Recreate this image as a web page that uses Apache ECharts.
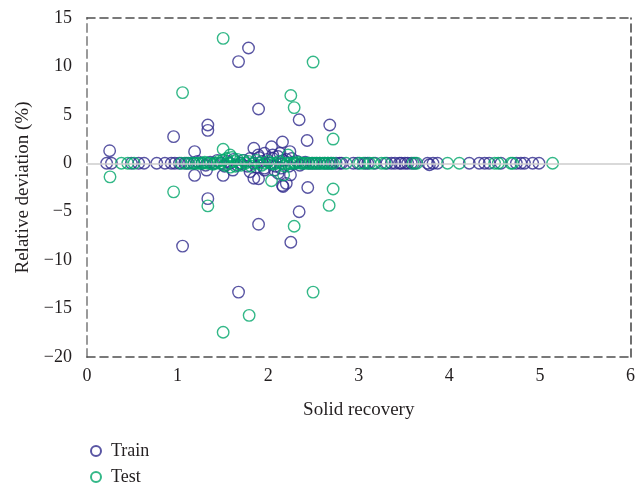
<!DOCTYPE html>
<html><head><meta charset="utf-8">
<script src="https://cdn.jsdelivr.net/npm/echarts@6/dist/echarts.min.js"></script>
<style>html,body{margin:0;padding:0;background:#fff}#c{width:638px;height:485px}</style>
</head><body><div id="c"></div>
<script>
// ---- data ----
const trainX = [1.783,1.673,1.894,2.342,1.334,1.334,0.956,2.43,2.158,0.25,1.188,1.842,2.037,2.68,2.24,1.89,1.96,2.05,2.13,
  1.188,1.334,2.437,2.158,2.342,1.894,1.055,2.25,1.673,1.842,1.894,1.503,2.246,1.61,2.11,2.2,1.80,1.96,2.07,1.32,2.165,
  0.217,0.27,0.49,0.57,0.63,0.77,0.86,0.93,0.97,1.02,1.08,1.12,1.18,1.22,1.27,1.31,1.36,1.40,1.44,1.48,1.52,1.55,1.58,1.62,1.66,1.70,1.73,1.77,1.80,1.84,1.87,1.90,1.93,1.96,1.99,2.02,2.05,2.08,2.11,2.14,2.17,2.20,2.23,2.26,2.29,2.32,2.35,2.38,2.41,2.45,2.49,2.53,2.57,2.62,2.66,2.70,2.75,
  2.79,2.81,2.94,2.99,3.07,3.10,3.18,3.31,3.36,3.40,3.45,3.47,3.51,3.54,3.58,3.62,3.76,3.78,3.82,3.87,4.22,4.33,4.39,4.44,4.57,4.74,4.79,4.83,4.92,4.99];
const trainY = [11.9,10.5,5.6,4.5,3.95,3.4,2.75,2.35,2.2,1.3,1.2,1.55,1.7,3.95,1.2,0.86,1.03,0.86,1.03,
  -1.25,-3.65,-2.5,-2.3,-5.0,-6.3,-8.55,-8.15,-13.3,-1.55,-1.6,-1.25,-1.2,-0.7,-1.03,-2.07,-0.87,-0.7,-0.7,-0.7,-2.4,
  0,0,0,0,0,0,0,0,0,0,0,0,0,0.2,0,-0.2,0.1,0,0.3,0,-0.3,0.2,0,0.4,-0.2,0,0.3,-0.3,0.5,0,-0.4,0.6,0.2,-0.5,0.4,0,0.5,-0.3,0.7,-0.5,0.3,0.4,-0.3,0.5,0,0.2,-0.2,0,0.1,0,0,0,0,0,0,0,0,
  0,0,0,0,0,0,0,0,0,0,0,0,0,0,0,0,0,-0.15,0,0,0,0,0,0,0,0,0,0,0,0];
const testX = [1.503,2.496,1.055,2.25,2.287,1.503,2.717,0.254,0.956,1.334,2.037,2.287,2.496,1.79,1.503,2.717,2.673,1.58,2.22,2.17,
  0.38,0.45,0.52,1.04,1.10,1.15,1.18,1.21,1.24,1.27,1.30,1.33,1.36,1.39,1.42,1.45,1.47,1.50,1.52,1.54,1.56,1.58,1.60,1.62,1.64,1.66,1.68,1.70,1.72,1.75,1.78,1.81,1.84,1.87,1.90,1.93,1.96,2.00,2.03,2.06,2.09,2.12,2.15,2.18,2.21,2.24,2.27,2.30,2.33,2.36,2.39,2.42,2.45,2.48,2.51,2.54,2.57,2.60,2.63,2.66,2.69,2.72,
  2.86,3.01,3.05,3.12,3.16,3.25,3.29,3.60,3.64,3.98,4.11,4.50,4.54,4.68,4.70,5.14];
const testY = [12.9,10.45,7.3,7.0,5.75,1.45,2.5,-1.4,-2.95,-4.4,-1.8,-6.5,-13.3,-15.7,-17.45,-2.65,-4.35,0.86,0.86,-1.2,
  0,0,0,0,0,0,0,0,0,0,0.1,0,0,-0.1,0,0.2,0,0.3,-0.2,0.5,0,-0.4,0.6,0.2,-0.3,0.4,0,-0.2,0.3,0,0.2,-0.3,0,0.3,0,-0.2,0,0.2,0,-0.1,0,0.2,0,-0.3,0,0,0,0,0.1,0,0,0,0,0,0,0,0,0,0,0,0,0,
  0,0,0,0,0,0,0,0,0,0,0,0,0,0,0,0];
const xTicks = [0,1,2,3,4,5,6];
const yTicks = [-20,-15,-10,-5,0,5,10,15];

const pairs = (xs, ys) => xs.map((x, i) => [x, ys[i]]);
const FONT = 'Liberation Serif';
const TXT = '#231f20';
const TRAIN_C = '#2f2b8c';
const TEST_C = '#00a66a';
const dashDark = {color:'#4d4d4d', width:1.6, type:[8,5]};
const legendBase = {orient:'vertical', left:85, itemWidth:10, itemHeight:10, icon:'circle', itemGap:8,
  textStyle:{fontFamily:FONT, fontSize:18, color:TXT, padding:[0,0,0,5]}};
const chart = echarts.init(document.getElementById('c'), null, {renderer:'canvas'});
chart.setOption({
  animation:false,
  grid:{left:87, right:7, top:18, bottom:128, containLabel:false},
  legend:[
    Object.assign({}, legendBase, {top:437, data:['Train']}),
    Object.assign({}, legendBase, {top:463, data:['Test']})
  ],
  xAxis:[{
    type:'value', min:0, max:6, interval:1, position:'bottom',
    name:'Solid recovery', nameLocation:'middle', nameGap:44,
    nameTextStyle:{fontFamily:FONT, fontSize:19, color:TXT},
    axisLine:{show:true, onZero:false, lineStyle:dashDark},
    axisTick:{show:false}, splitLine:{show:false},
    axisLabel:{fontFamily:FONT, fontSize:18, color:TXT, margin:10,
      formatter:v=>xTicks.includes(v)?String(v):''}
  },{
    type:'value', min:0, max:6, position:'top',
    axisLine:{show:true, onZero:false, lineStyle:dashDark},
    axisTick:{show:false}, axisLabel:{show:false}, splitLine:{show:false}
  }],
  yAxis:[{
    type:'value', min:-20, max:15, interval:5, position:'left',
    name:'Relative deviation (%)', nameLocation:'middle', nameGap:52, nameRotate:90,
    nameTextStyle:{fontFamily:FONT, fontSize:19, color:TXT},
    axisLine:{show:true, onZero:false, lineStyle:{color:'#9a9a9a', width:2, type:[8,5]}},
    axisTick:{show:false}, splitLine:{show:false},
    axisLabel:{fontFamily:FONT, fontSize:18, color:TXT, margin:15,
      formatter:v=>yTicks.includes(v)?String(v).replace('-','\u2212'):''}
  },{
    type:'value', min:-20, max:15, position:'right',
    axisLine:{show:true, onZero:false, lineStyle:dashDark},
    axisTick:{show:false}, axisLabel:{show:false}, splitLine:{show:false}
  }],
  series:[{
    type:'line', data:[], z:1, silent:true,
    markLine:{silent:true, symbol:'none', label:{show:false},
      lineStyle:{color:'#cccccc', width:1.5, type:'solid'}, data:[{yAxis:0}]}
  },{
    name:'Train', type:'scatter', z:2, symbol:'circle', symbolSize:11.5,
    itemStyle:{color:'rgba(0,0,0,0)', borderColor:TRAIN_C, borderWidth:1.4},
    data:pairs(trainX, trainY)
  },{
    name:'Test', type:'scatter', z:3, symbol:'circle', symbolSize:11.5,
    itemStyle:{color:'rgba(0,0,0,0)', borderColor:TEST_C, borderWidth:1.4},
    data:pairs(testX, testY)
  }]
});
</script></body></html>
